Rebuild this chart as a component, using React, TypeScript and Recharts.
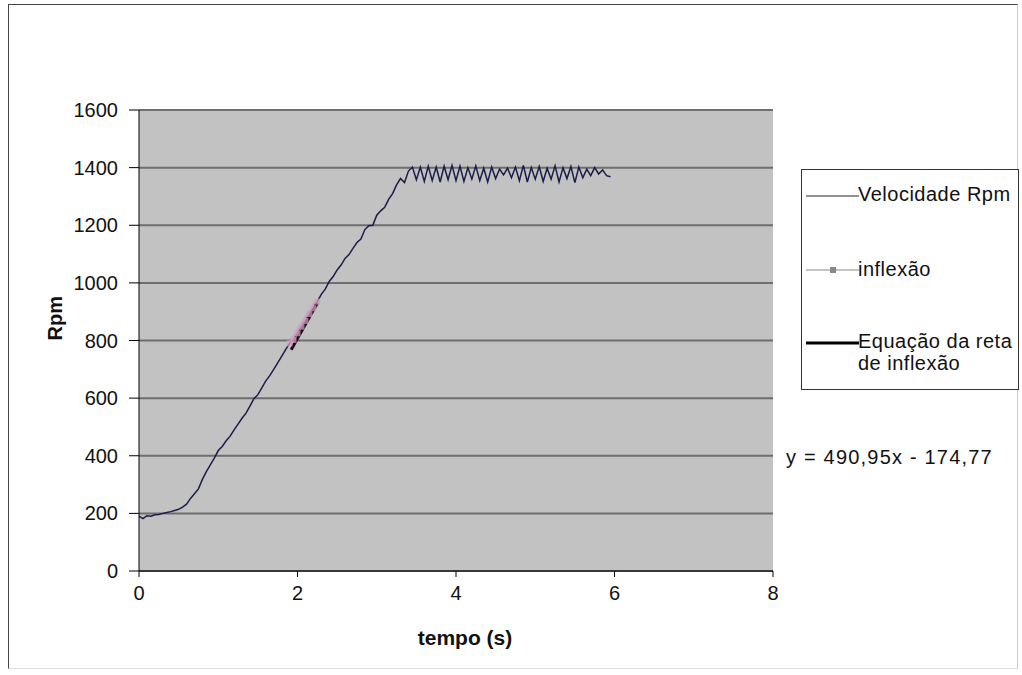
import { LineChart, Line, XAxis, YAxis, CartesianGrid } from 'recharts'

const tempo = [
    0, 0.05, 0.1, 0.15, 0.2, 0.25, 0.3, 0.35, 0.4, 0.45,
    0.5, 0.55, 0.6, 0.65, 0.7, 0.75, 0.8, 0.85, 0.9, 0.95,
    1, 1.05, 1.1, 1.15, 1.2, 1.25, 1.3, 1.35, 1.4, 1.45,
    1.5, 1.55, 1.6, 1.65, 1.7, 1.75, 1.8, 1.85, 1.9, 1.95,
    2, 2.05, 2.1, 2.15, 2.2, 2.25, 2.3, 2.35, 2.4, 2.45,
    2.5, 2.55, 2.6, 2.65, 2.7, 2.75, 2.8, 2.85, 2.9, 2.95,
    3, 3.05, 3.1, 3.15, 3.2, 3.25, 3.3, 3.35, 3.4, 3.45,
    3.5, 3.55, 3.6, 3.65, 3.7, 3.75, 3.8, 3.85, 3.9, 3.95,
    4, 4.05, 4.1, 4.15, 4.2, 4.25, 4.3, 4.35, 4.4, 4.45,
    4.5, 4.55, 4.6, 4.65, 4.7, 4.75, 4.8, 4.85, 4.9, 4.95,
    5, 5.05, 5.1, 5.15, 5.2, 5.25, 5.3, 5.35, 5.4, 5.45,
    5.5, 5.55, 5.6, 5.65, 5.7, 5.75, 5.8, 5.85, 5.9, 5.95,
]

const velocidadeRpm = [
    190, 182, 192, 190, 195, 196, 200, 203, 206, 210,
    214, 222, 232, 252, 268, 285, 318, 345, 368, 392,
    418, 432, 452, 468, 490, 510, 530, 548, 572, 598,
    612, 636, 660, 678, 700, 722, 745, 768, 790, 802,
    825, 848, 868, 892, 912, 935, 960, 978, 1005, 1022,
    1045, 1062, 1085, 1098, 1120, 1140, 1152, 1185, 1198, 1200,
    1235, 1250, 1262, 1290, 1310, 1340, 1362, 1348, 1388, 1402,
    1358, 1402, 1352, 1405, 1355, 1402, 1350, 1405, 1358, 1408,
    1355, 1405, 1352, 1400, 1360, 1406, 1355, 1398, 1350, 1402,
    1362, 1395, 1375, 1398, 1365, 1402, 1355, 1408, 1350, 1400,
    1360, 1404, 1352, 1398, 1360, 1406, 1350, 1400, 1362, 1404,
    1348, 1402, 1365, 1395, 1372, 1400, 1378, 1392, 1372, 1368,
]

const inflexaoTempo = [1.9, 1.95, 2, 2.05, 2.1, 2.15, 2.2, 2.25]
const inflexaoRpm = [790, 802, 825, 848, 868, 892, 912, 935]

const retaTempo = [1.92, 2.25]
const retaRpm = [768, 930]

const xTicks = [0, 2, 4, 6, 8]
const yTicks = [0, 200, 400, 600, 800, 1000, 1200, 1400, 1600]

const velocidadeData = tempo.map((t, i) => ({ t, rpm: velocidadeRpm[i] }))
const inflexaoData = inflexaoTempo.map((t, i) => ({ t, rpm: inflexaoRpm[i] }))
const retaData = retaTempo.map((t, i) => ({ t, rpm: retaRpm[i] }))

const font = '"Liberation Sans", Arial, sans-serif'

const SquareDot = (props: any) => {
    const { cx, cy, index } = props
    if (cx == null || cy == null) return <g key={index} />
    return <rect key={index} x={cx - 3} y={cy - 3} width={6} height={6} fill="#d8a0c8" fillOpacity={0.7} />
}

export default function App() {
    return (
        <div style={{ position: 'absolute', left: 0, top: 0, width: 1022, height: 675, background: '#fff', fontFamily: font }}>
            <div style={{ position: 'absolute', left: 8, top: 4, width: 1008, height: 663, borderTop: '1px solid #444', borderLeft: '1px solid #444', borderRight: '1px solid #ccc', borderBottom: '1px solid #ddd' }} />
            <div style={{ position: 'absolute', left: 0, top: 0 }}>
                <LineChart width={1022} height={675} margin={{ top: 110, right: 249, bottom: 74, left: 89 }}>
                    <CartesianGrid horizontal vertical={false} fill="#c2c2c2" stroke="#6e6e6e" strokeWidth={2} />
                    <XAxis
                        type="number"
                        dataKey="t"
                        domain={[0, 8]}
                        ticks={xTicks}
                        allowDataOverflow
                        height={30}
                        stroke="#000"
                        tickSize={6}
                        tickMargin={9}
                        tick={{ fontSize: 20, fill: '#111', fontFamily: font }}
                        label={{ value: 'tempo (s)', position: 'insideBottom', offset: -44, dx: 9, fontSize: 21, fontWeight: 'bold', fill: '#111', fontFamily: font }}
                    />
                    <YAxis
                        type="number"
                        dataKey="rpm"
                        domain={[0, 1600]}
                        ticks={yTicks}
                        width={50}
                        stroke="#000"
                        tickSize={10}
                        tickMargin={11}
                        tick={{ fontSize: 20, fill: '#111', fontFamily: font }}
                        label={{ value: 'Rpm', angle: -90, position: 'insideLeft', offset: -34, fontSize: 20, fontWeight: 'bold', fill: '#111', fontFamily: font }}
                    />
                    <Line
                        data={velocidadeData}
                        dataKey="rpm"
                        name="Velocidade Rpm"
                        stroke="#1c1c4a"
                        strokeWidth={1.5}
                        dot={false}
                        isAnimationActive={false}
                    />
                    <Line
                        data={inflexaoData}
                        dataKey="rpm"
                        name="inflexão"
                        stroke="#d070b0"
                        strokeWidth={6}
                        strokeOpacity={0.35}
                        dot={SquareDot}
                        isAnimationActive={false}
                    />
                    <Line
                        data={retaData}
                        dataKey="rpm"
                        name="Equação da reta de inflexão"
                        stroke="#111"
                        strokeWidth={3}
                        dot={false}
                        isAnimationActive={false}
                    />
                </LineChart>
            </div>

            <div style={{ position: 'absolute', left: 801, top: 169, width: 216, height: 219, border: '1px solid #333', background: '#fff', fontSize: 20, letterSpacing: 0.5, color: '#111' }}>
                <svg style={{ position: 'absolute', left: 4, top: 18 }} width={53} height={16}>
                    <line x1={0} y1={8} x2={53} y2={8} stroke="#222" strokeWidth={1} />
                </svg>
                <div style={{ position: 'absolute', left: 56, top: 13, whiteSpace: 'nowrap' }}>Velocidade Rpm</div>
                <svg style={{ position: 'absolute', left: 4, top: 92 }} width={53} height={16}>
                    <line x1={0} y1={8} x2={53} y2={8} stroke="#888" strokeWidth={1} />
                    <rect x={24} y={5} width={6} height={6} fill="#888" />
                </svg>
                <div style={{ position: 'absolute', left: 56, top: 88, whiteSpace: 'nowrap' }}>inflexão</div>
                <svg style={{ position: 'absolute', left: 4, top: 165 }} width={53} height={16}>
                    <line x1={0} y1={8} x2={53} y2={8} stroke="#000" strokeWidth={3} />
                </svg>
                <div style={{ position: 'absolute', left: 56, top: 160, whiteSpace: 'nowrap', lineHeight: '22px' }}>
                    Equação da reta<br />de inflexão
                </div>
            </div>

            <div style={{ position: 'absolute', left: 786, top: 446, fontSize: 20, letterSpacing: 1.2, whiteSpace: 'nowrap', color: '#111' }}>
                y = 490,95x - 174,77
            </div>
        </div>
    )
}
